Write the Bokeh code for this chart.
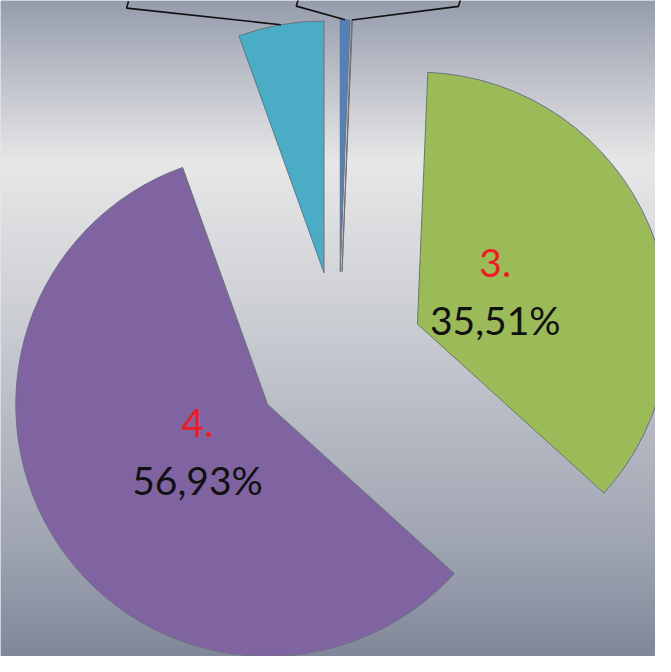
import numpy as np
from bokeh.plotting import figure
from bokeh.models import Range1d
from bokeh.core.properties import value
from bokeh.embed import file_html
from bokeh.resources import INLINE

# ---- data ----
categories = ["1.", "2.", "3.", "4.", "5."]
shares = [0.6, 0.05, 35.51, 56.93, 5.4]
pct_labels = ["", "", "35,51%", "56,93%", ""]
colors = ["#4f81bd", "#c0504d", "#9bbb59", "#8064a2", "#4bacc6"]
inside_label = [False, False, True, True, False]
# leader-line anchor offsets (labels of small slices sit above the visible area)
leader_dx = [-50, 109, 0, 0, -158]
leader_dy = [14, 14, 0, 0, 17]

# ---- layout ----
W, H = 655, 656
CX, CY = 346.4, 672 - 365.2
R = 258.0
EXPLODE = 87.5
LABEL_FRAC = 0.335

p = figure(width=W, height=H, x_range=Range1d(0, 671), y_range=Range1d(0, 672),
           output_backend="svg", toolbar_location=None, min_border=0)
p.axis.visible = False
p.grid.visible = False
p.outline_line_color = None
p.background_fill_color = "#d0d2d7"
p.border_fill_color = "#d0d2d7"

# background vertical gradient (screen y -> colour)
stops_y = [0, 60, 165, 300, 450, 560, 672]
stops_c = ["#959cab", "#b4b8c3", "#e7e7e7", "#d0d2d7", "#b3b7c1", "#9fa4b1", "#80879a"]
def hex2rgb(h):
    return [int(h[i:i + 2], 16) for i in (1, 3, 5)]
rgb = np.array([hex2rgb(c) for c in stops_c], dtype=float)
rows = 672
sy = 672 - (np.arange(rows) + 0.5)
img = np.empty((rows, 2), dtype=np.uint32)
view = img.view(dtype=np.uint8).reshape((rows, 2, 4))
for k in range(3):
    col = np.interp(sy, stops_y, rgb[:, k])
    view[:, :, k] = np.round(col)[:, None].astype(np.uint8)
view[:, :, 3] = 255
p.image_rgba(image=[img], x=0, y=0, dw=671, dh=672)

# ---- pie geometry ----
vals = np.array(shares, dtype=float)
edges = np.concatenate([[0.0], np.cumsum(vals) / vals.sum() * 360.0])
t1 = edges[:-1]
t2 = edges[1:]
tm = (t1 + t2) / 2.0
dx = np.sin(np.radians(tm))
dy = np.cos(np.radians(tm))
ax = CX + EXPLODE * dx
ay = CY + EXPLODE * dy

p.wedge(x=list(ax), y=list(ay), radius=R,
        start_angle=list(np.radians(90 - t1)), end_angle=list(np.radians(90 - t2)),
        direction="clock", fill_color=colors, line_color="#6b727e", line_width=1)

# inside labels
lx, ly, lnum, lpct = [], [], [], []
for i in range(len(categories)):
    if inside_label[i]:
        d = EXPLODE + LABEL_FRAC * R
        lx.append(CX + d * dx[i])
        ly.append(CY + d * dy[i])
        lnum.append(categories[i])
        lpct.append(pct_labels[i])
ly = np.array(ly)
p.text(x=lx, y=list(ly + 29.5), text=lnum, text_color="#ee1c24",
       text_font=value("Lato"), text_font_size="39px",
       text_align="center", text_baseline="middle")
p.text(x=lx, y=list(ly - 29.5), text=lpct, text_color="#111111",
       text_font=value("Lato"), text_font_size="39px",
       text_align="center", text_baseline="middle")

# leader lines for outside labels
xs, ys = [], []
for i in range(len(categories)):
    if not inside_label[i]:
        ex = ax[i] + R * dx[i]
        ey = ay[i] + R * dy[i]
        bx = ex + leader_dx[i]
        by = ey + leader_dy[i]
        xs.append([ex, bx, bx + 2])
        ys.append([ey, by, by + 7])
p.multi_line(xs=xs, ys=ys, line_color="#111111", line_width=1.6)

open("out.html", "w").write(file_html(p, INLINE))
